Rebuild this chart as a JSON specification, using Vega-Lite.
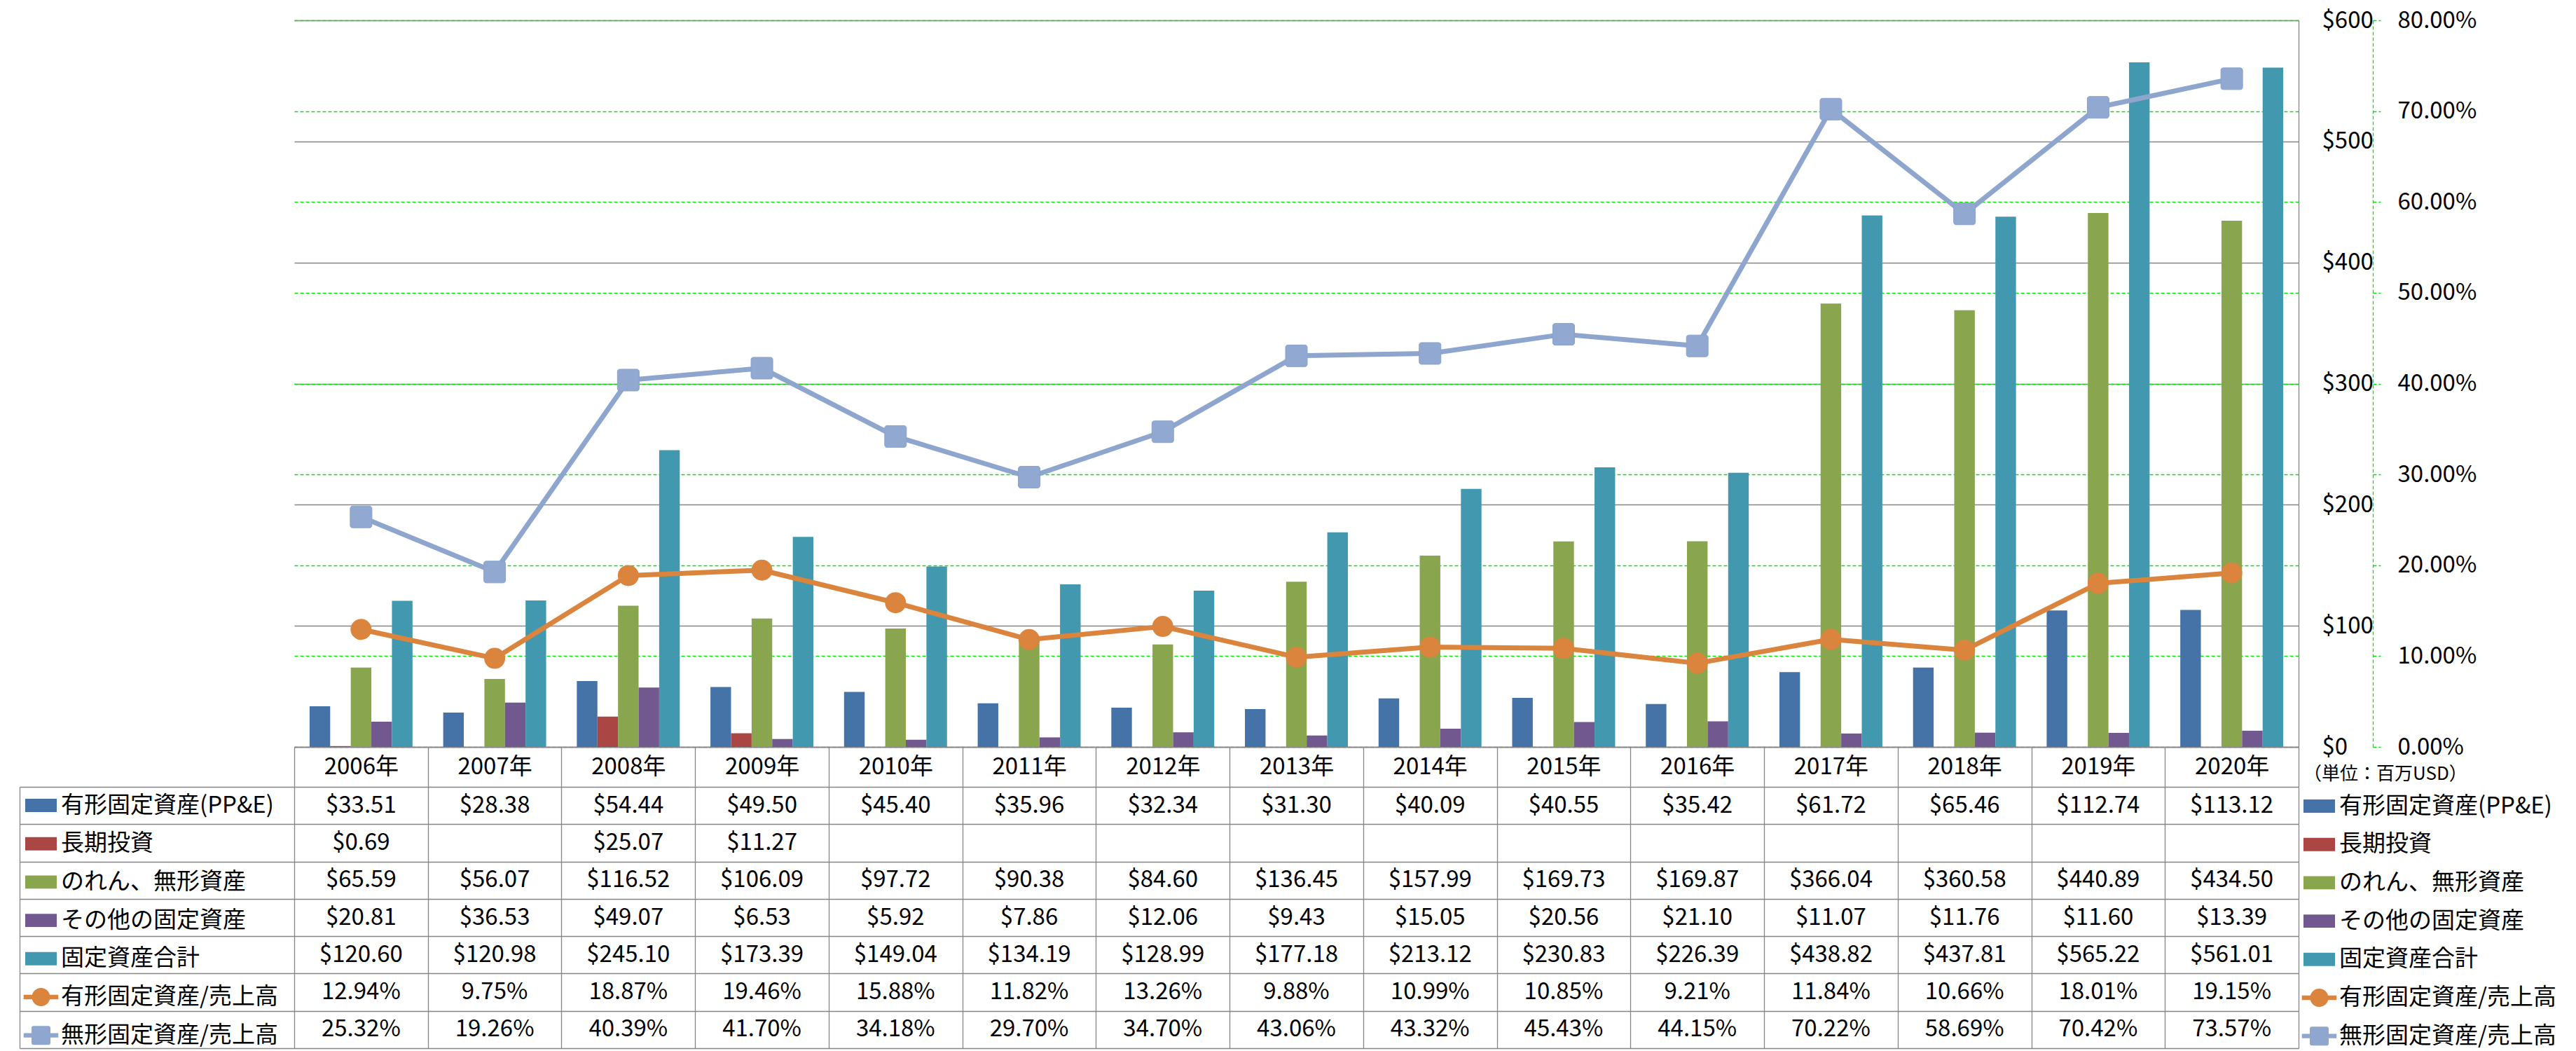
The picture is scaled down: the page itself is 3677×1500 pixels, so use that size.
{
  "$schema": "https://vega.github.io/schema/vega-lite/v6.json",
  "background": "white",
  "autosize": {"type": "pad"},
  "padding": {"left": 27, "top": 13, "right": 10, "bottom": 2},
  "bounds": "flush",
  "spacing": 57,
  "config": {
    "font": "Noto Sans CJK JP",
    "view": {"stroke": null},
    "axis": {"labelFont": "Noto Sans CJK JP", "labelFontSize": 33, "labelColor": "#000000"},
    "legend": {"labelFont": "Noto Sans CJK JP", "titleFont": "Noto Sans CJK JP"}
  },
  "datasets": {
    "d": [
      {"year": "2006年", "series": "有形固定資産(PP&E)", "value": 33.51},
      {"year": "2007年", "series": "有形固定資産(PP&E)", "value": 28.38},
      {"year": "2008年", "series": "有形固定資産(PP&E)", "value": 54.44},
      {"year": "2009年", "series": "有形固定資産(PP&E)", "value": 49.50},
      {"year": "2010年", "series": "有形固定資産(PP&E)", "value": 45.40},
      {"year": "2011年", "series": "有形固定資産(PP&E)", "value": 35.96},
      {"year": "2012年", "series": "有形固定資産(PP&E)", "value": 32.34},
      {"year": "2013年", "series": "有形固定資産(PP&E)", "value": 31.30},
      {"year": "2014年", "series": "有形固定資産(PP&E)", "value": 40.09},
      {"year": "2015年", "series": "有形固定資産(PP&E)", "value": 40.55},
      {"year": "2016年", "series": "有形固定資産(PP&E)", "value": 35.42},
      {"year": "2017年", "series": "有形固定資産(PP&E)", "value": 61.72},
      {"year": "2018年", "series": "有形固定資産(PP&E)", "value": 65.46},
      {"year": "2019年", "series": "有形固定資産(PP&E)", "value": 112.74},
      {"year": "2020年", "series": "有形固定資産(PP&E)", "value": 113.12},
      {"year": "2006年", "series": "長期投資", "value": 0.69},
      {"year": "2008年", "series": "長期投資", "value": 25.07},
      {"year": "2009年", "series": "長期投資", "value": 11.27},
      {"year": "2006年", "series": "のれん、無形資産", "value": 65.59},
      {"year": "2007年", "series": "のれん、無形資産", "value": 56.07},
      {"year": "2008年", "series": "のれん、無形資産", "value": 116.52},
      {"year": "2009年", "series": "のれん、無形資産", "value": 106.09},
      {"year": "2010年", "series": "のれん、無形資産", "value": 97.72},
      {"year": "2011年", "series": "のれん、無形資産", "value": 90.38},
      {"year": "2012年", "series": "のれん、無形資産", "value": 84.60},
      {"year": "2013年", "series": "のれん、無形資産", "value": 136.45},
      {"year": "2014年", "series": "のれん、無形資産", "value": 157.99},
      {"year": "2015年", "series": "のれん、無形資産", "value": 169.73},
      {"year": "2016年", "series": "のれん、無形資産", "value": 169.87},
      {"year": "2017年", "series": "のれん、無形資産", "value": 366.04},
      {"year": "2018年", "series": "のれん、無形資産", "value": 360.58},
      {"year": "2019年", "series": "のれん、無形資産", "value": 440.89},
      {"year": "2020年", "series": "のれん、無形資産", "value": 434.50},
      {"year": "2006年", "series": "その他の固定資産", "value": 20.81},
      {"year": "2007年", "series": "その他の固定資産", "value": 36.53},
      {"year": "2008年", "series": "その他の固定資産", "value": 49.07},
      {"year": "2009年", "series": "その他の固定資産", "value": 6.53},
      {"year": "2010年", "series": "その他の固定資産", "value": 5.92},
      {"year": "2011年", "series": "その他の固定資産", "value": 7.86},
      {"year": "2012年", "series": "その他の固定資産", "value": 12.06},
      {"year": "2013年", "series": "その他の固定資産", "value": 9.43},
      {"year": "2014年", "series": "その他の固定資産", "value": 15.05},
      {"year": "2015年", "series": "その他の固定資産", "value": 20.56},
      {"year": "2016年", "series": "その他の固定資産", "value": 21.10},
      {"year": "2017年", "series": "その他の固定資産", "value": 11.07},
      {"year": "2018年", "series": "その他の固定資産", "value": 11.76},
      {"year": "2019年", "series": "その他の固定資産", "value": 11.60},
      {"year": "2020年", "series": "その他の固定資産", "value": 13.39},
      {"year": "2006年", "series": "固定資産合計", "value": 120.60},
      {"year": "2007年", "series": "固定資産合計", "value": 120.98},
      {"year": "2008年", "series": "固定資産合計", "value": 245.10},
      {"year": "2009年", "series": "固定資産合計", "value": 173.39},
      {"year": "2010年", "series": "固定資産合計", "value": 149.04},
      {"year": "2011年", "series": "固定資産合計", "value": 134.19},
      {"year": "2012年", "series": "固定資産合計", "value": 128.99},
      {"year": "2013年", "series": "固定資産合計", "value": 177.18},
      {"year": "2014年", "series": "固定資産合計", "value": 213.12},
      {"year": "2015年", "series": "固定資産合計", "value": 230.83},
      {"year": "2016年", "series": "固定資産合計", "value": 226.39},
      {"year": "2017年", "series": "固定資産合計", "value": 438.82},
      {"year": "2018年", "series": "固定資産合計", "value": 437.81},
      {"year": "2019年", "series": "固定資産合計", "value": 565.22},
      {"year": "2020年", "series": "固定資産合計", "value": 561.01},
      {"year": "2006年", "series": "有形固定資産/売上高", "value": 0.1294},
      {"year": "2007年", "series": "有形固定資産/売上高", "value": 0.0975},
      {"year": "2008年", "series": "有形固定資産/売上高", "value": 0.1887},
      {"year": "2009年", "series": "有形固定資産/売上高", "value": 0.1946},
      {"year": "2010年", "series": "有形固定資産/売上高", "value": 0.1588},
      {"year": "2011年", "series": "有形固定資産/売上高", "value": 0.1182},
      {"year": "2012年", "series": "有形固定資産/売上高", "value": 0.1326},
      {"year": "2013年", "series": "有形固定資産/売上高", "value": 0.0988},
      {"year": "2014年", "series": "有形固定資産/売上高", "value": 0.1099},
      {"year": "2015年", "series": "有形固定資産/売上高", "value": 0.1085},
      {"year": "2016年", "series": "有形固定資産/売上高", "value": 0.0921},
      {"year": "2017年", "series": "有形固定資産/売上高", "value": 0.1184},
      {"year": "2018年", "series": "有形固定資産/売上高", "value": 0.1066},
      {"year": "2019年", "series": "有形固定資産/売上高", "value": 0.1801},
      {"year": "2020年", "series": "有形固定資産/売上高", "value": 0.1915},
      {"year": "2006年", "series": "無形固定資産/売上高", "value": 0.2532},
      {"year": "2007年", "series": "無形固定資産/売上高", "value": 0.1926},
      {"year": "2008年", "series": "無形固定資産/売上高", "value": 0.4039},
      {"year": "2009年", "series": "無形固定資産/売上高", "value": 0.4170},
      {"year": "2010年", "series": "無形固定資産/売上高", "value": 0.3418},
      {"year": "2011年", "series": "無形固定資産/売上高", "value": 0.2970},
      {"year": "2012年", "series": "無形固定資産/売上高", "value": 0.3470},
      {"year": "2013年", "series": "無形固定資産/売上高", "value": 0.4306},
      {"year": "2014年", "series": "無形固定資産/売上高", "value": 0.4332},
      {"year": "2015年", "series": "無形固定資産/売上高", "value": 0.4543},
      {"year": "2016年", "series": "無形固定資産/売上高", "value": 0.4415},
      {"year": "2017年", "series": "無形固定資産/売上高", "value": 0.7022},
      {"year": "2018年", "series": "無形固定資産/売上高", "value": 0.5869},
      {"year": "2019年", "series": "無形固定資産/売上高", "value": 0.7042},
      {"year": "2020年", "series": "無形固定資産/売上高", "value": 0.7357}
    ]
  },
  "resolve": {"scale": {"x": "shared"}},
  "vconcat": [
    {
      "width": 2861,
      "height": 1037,
      "data": {"name": "d"},
      "encoding": {
        "x": {
          "field": "year", "type": "nominal",
          "scale": {"type": "band", "paddingInner": 0, "paddingOuter": 0},
          "axis": {
            "orient": "bottom", "title": null, "labelAngle": 0,
            "domain": true, "domainColor": "#868686", "domainWidth": 1.3,
            "ticks": true, "tickBand": "extent", "tickSize": 57, "tickColor": "#868686", "tickWidth": 1.3,
            "labelBaseline": "middle", "labelPadding": -28.5, "labelFontSize": 33, "grid": false
          }
        }
      },
      "layer": [
        {
          "transform": [{"filter": {"field": "series", "oneOf": ["有形固定資産(PP&E)", "長期投資", "のれん、無形資産", "その他の固定資産", "固定資産合計"]}}],
          "mark": {"type": "bar"},
          "encoding": {
            "xOffset": {
              "field": "series", "type": "nominal",
              "scale": {"domain": ["有形固定資産(PP&E)", "長期投資", "のれん、無形資産", "その他の固定資産", "固定資産合計"], "paddingInner": 0, "paddingOuter": 0.745}
            },
            "y": {
              "field": "value", "type": "quantitative",
              "scale": {"domain": [0, 600], "nice": false},
              "axis": {
                "orient": "right", "title": null, "values": [0, 100, 200, 300, 400, 500, 600], "format": "$.0f",
                "domain": true, "domainColor": "#868686", "domainWidth": 1.3,
                "ticks": false, "labelPadding": 33, "labelAlign": "left", "labelBaseline": "middle",
                "grid": true, "gridColor": "#868686", "gridWidth": 1.3
              }
            },
            "color": {
              "field": "series", "type": "nominal",
              "scale": {"domain": ["有形固定資産(PP&E)", "長期投資", "のれん、無形資産", "その他の固定資産", "固定資産合計"], "range": ["#4572A7", "#AA4643", "#89A54E", "#71588F", "#4198AF"]},
              "legend": null
            }
          }
        },
        {
          "encoding": {
            "y": {
              "field": "value", "type": "quantitative",
              "scale": {"domain": [0, 0.8], "nice": false},
              "axis": {
                "orient": "right", "offset": 106, "title": null,
                "values": [0, 0.1, 0.2, 0.3, 0.4, 0.5, 0.6, 0.7, 0.8], "format": ".2%",
                "domain": true, "domainColor": "#00E600", "domainDash": [5, 3], "domainWidth": 1.3,
                "ticks": true, "tickColor": "#00E600", "tickDash": [5, 3], "tickSize": 11, "tickWidth": 1.3,
                "labelPadding": 24, "labelAlign": "left", "labelBaseline": "middle",
                "grid": true, "gridColor": "#00E600", "gridDash": [5, 3], "gridWidth": 1.3
              }
            }
          },
          "layer": [
            {
              "transform": [{"filter": {"field": "series", "equal": "無形固定資産/売上高"}}],
              "mark": {"type": "line", "color": "#8EA6CE", "strokeWidth": 7, "strokeJoin": "round"}
            },
            {
              "transform": [{"filter": {"field": "series", "equal": "無形固定資産/売上高"}}],
              "mark": {"type": "point", "shape": "M-0.78,-1H0.78A0.22,0.22 0 0,1 1,-0.78V0.78A0.22,0.22 0 0,1 0.78,1H-0.78A0.22,0.22 0 0,1 -1,0.78V-0.78A0.22,0.22 0 0,1 -0.78,-1Z", "filled": true, "size": 961, "color": "#91A8D1", "stroke": "#8AA2CD", "strokeWidth": 1, "opacity": 1}
            },
            {
              "transform": [{"filter": {"field": "series", "equal": "有形固定資産/売上高"}}],
              "mark": {"type": "line", "color": "#DB843D", "strokeWidth": 7, "strokeJoin": "round"}
            },
            {
              "transform": [{"filter": {"field": "series", "equal": "有形固定資産/売上高"}}],
              "mark": {"type": "point", "shape": "circle", "filled": true, "size": 900, "color": "#DB843D", "opacity": 1}
            }
          ]
        }
      ],
      "resolve": {"scale": {"y": "independent"}}
    },
    {
      "width": 2861,
      "height": 373,
      "data": {"name": "d"},
      "encoding": {
        "x": {
          "field": "year", "type": "nominal",
          "scale": {"type": "band", "paddingInner": 0, "paddingOuter": 0},
          "axis": {"orient": "bottom", "title": null, "labels": false, "ticks": false, "domain": false, "grid": true, "tickBand": "extent", "gridColor": "#868686", "gridWidth": 1.3}
        },
        "y": {
          "field": "series", "type": "nominal",
          "scale": {"type": "band", "domain": ["有形固定資産(PP&E)", "長期投資", "のれん、無形資産", "その他の固定資産", "固定資産合計", "有形固定資産/売上高", "無形固定資産/売上高"], "paddingInner": 0, "paddingOuter": 0},
          "axis": {
            "orient": "left", "offset": 392, "title": null, "labels": false,
            "ticks": true, "tickSize": -392, "tickBand": "extent", "tickColor": "#868686", "tickWidth": 1.3,
            "domain": true, "domainColor": "#868686", "domainWidth": 1.3,
            "grid": true, "gridColor": "#868686", "gridWidth": 1.3
          }
        }
      },
      "layer": [
        {
          "transform": [{"filter": {"field": "series", "oneOf": ["有形固定資産(PP&E)", "長期投資", "のれん、無形資産", "その他の固定資産", "固定資産合計"]}}],
          "mark": {"type": "text", "fontSize": 33, "color": "#000000", "font": "Noto Sans CJK JP"},
          "encoding": {
            "text": {"field": "value", "type": "quantitative", "format": "$.2f"}
          }
        },
        {
          "transform": [{"filter": {"field": "series", "oneOf": ["有形固定資産/売上高", "無形固定資産/売上高"]}}],
          "mark": {"type": "text", "fontSize": 33, "color": "#000000", "font": "Noto Sans CJK JP"},
          "encoding": {
            "text": {"field": "value", "type": "quantitative", "format": ".2%"}
          }
        },
        {
          "mark": {"type": "point", "filled": true, "opacity": 0},
          "encoding": {
            "fill": {
              "field": "series", "type": "nominal",
              "scale": {"domain": ["有形固定資産(PP&E)", "長期投資", "のれん、無形資産", "その他の固定資産", "固定資産合計", "有形固定資産/売上高", "無形固定資産/売上高"], "range": ["#4572A7", "#AA4643", "#89A54E", "#71588F", "#4198AF", "#DB843D", "#8FA6CF"]},
              "legend": {"orient": "none", "legendX": -384, "legendY": 4, "title": null, "direction": "vertical", "symbolSize": 2025, "symbolStrokeWidth": 0, "symbolOpacity": 1, "labelFontSize": 33, "labelColor": "#000000", "labelOffset": 6, "rowPadding": 14.7, "labelLimit": 400, "padding": 0}
            },
            "shape": {
              "field": "series", "type": "nominal",
              "scale": {"domain": ["有形固定資産(PP&E)", "長期投資", "のれん、無形資産", "その他の固定資産", "固定資産合計", "有形固定資産/売上高", "無形固定資産/売上高"], "range": ["M-1,-0.42H1V0.42H-1Z", "M-1,-0.42H1V0.42H-1Z", "M-1,-0.42H1V0.42H-1Z", "M-1,-0.42H1V0.42H-1Z", "M-1,-0.42H1V0.42H-1Z", "M-1.1,-0.14H1.1V0.14H-1.1Z M0.58,0A0.58,0.58 0 1,1 -0.58,0A0.58,0.58 0 1,1 0.58,0Z", "M-1.1,-0.14H1.1V0.14H-1.1Z M-0.48,-0.6H0.48A0.12,0.12 0 0,1 0.6,-0.48V0.48A0.12,0.12 0 0,1 0.48,0.6H-0.48A0.12,0.12 0 0,1 -0.6,0.48V-0.48A0.12,0.12 0 0,1 -0.48,-0.6Z"]},
              "legend": {"orient": "none", "legendX": -384, "legendY": 4, "title": null, "direction": "vertical", "symbolSize": 2025, "symbolStrokeWidth": 0, "symbolOpacity": 1, "labelFontSize": 33, "labelColor": "#000000", "labelOffset": 6, "rowPadding": 14.7, "labelLimit": 400, "padding": 0}
            }
          }
        },
        {
          "mark": {"type": "point", "filled": true, "opacity": 0},
          "encoding": {
            "fill": {
              "field": "series", "type": "nominal",
              "scale": {"domain": ["有形固定資産(PP&E)", "長期投資", "のれん、無形資産", "その他の固定資産", "固定資産合計", "有形固定資産/売上高", "無形固定資産/売上高"], "range": ["#4572A7", "#AA4643", "#89A54E", "#71588F", "#4198AF", "#DB843D", "#8FA6CF"]},
              "legend": {"orient": "none", "legendX": 2868, "legendY": -31, "title": "（単位：百万USD）", "titleFontSize": 26, "titleFontWeight": "normal", "titleColor": "#000000", "titlePadding": 10, "titleLimit": 400, "titleAnchor": "start", "direction": "vertical", "symbolSize": 2025, "symbolStrokeWidth": 0, "symbolOpacity": 1, "labelFontSize": 33, "labelColor": "#000000", "labelOffset": 6, "rowPadding": 14.7, "labelLimit": 400, "padding": 0}
            },
            "shape": {
              "field": "series", "type": "nominal",
              "scale": {"domain": ["有形固定資産(PP&E)", "長期投資", "のれん、無形資産", "その他の固定資産", "固定資産合計", "有形固定資産/売上高", "無形固定資産/売上高"], "range": ["M-1,-0.42H1V0.42H-1Z", "M-1,-0.42H1V0.42H-1Z", "M-1,-0.42H1V0.42H-1Z", "M-1,-0.42H1V0.42H-1Z", "M-1,-0.42H1V0.42H-1Z", "M-1.1,-0.14H1.1V0.14H-1.1Z M0.58,0A0.58,0.58 0 1,1 -0.58,0A0.58,0.58 0 1,1 0.58,0Z", "M-1.1,-0.14H1.1V0.14H-1.1Z M-0.48,-0.6H0.48A0.12,0.12 0 0,1 0.6,-0.48V0.48A0.12,0.12 0 0,1 0.48,0.6H-0.48A0.12,0.12 0 0,1 -0.6,0.48V-0.48A0.12,0.12 0 0,1 -0.48,-0.6Z"]},
              "legend": {"orient": "none", "legendX": 2868, "legendY": -31, "title": "（単位：百万USD）", "titleFontSize": 26, "titleFontWeight": "normal", "titleColor": "#000000", "titlePadding": 10, "titleLimit": 400, "titleAnchor": "start", "direction": "vertical", "symbolSize": 2025, "symbolStrokeWidth": 0, "symbolOpacity": 1, "labelFontSize": 33, "labelColor": "#000000", "labelOffset": 6, "rowPadding": 14.7, "labelLimit": 400, "padding": 0}
            }
          }
        }
      ],
      "resolve": {"scale": {"fill": "independent", "shape": "independent"}}
    }
  ]
}
